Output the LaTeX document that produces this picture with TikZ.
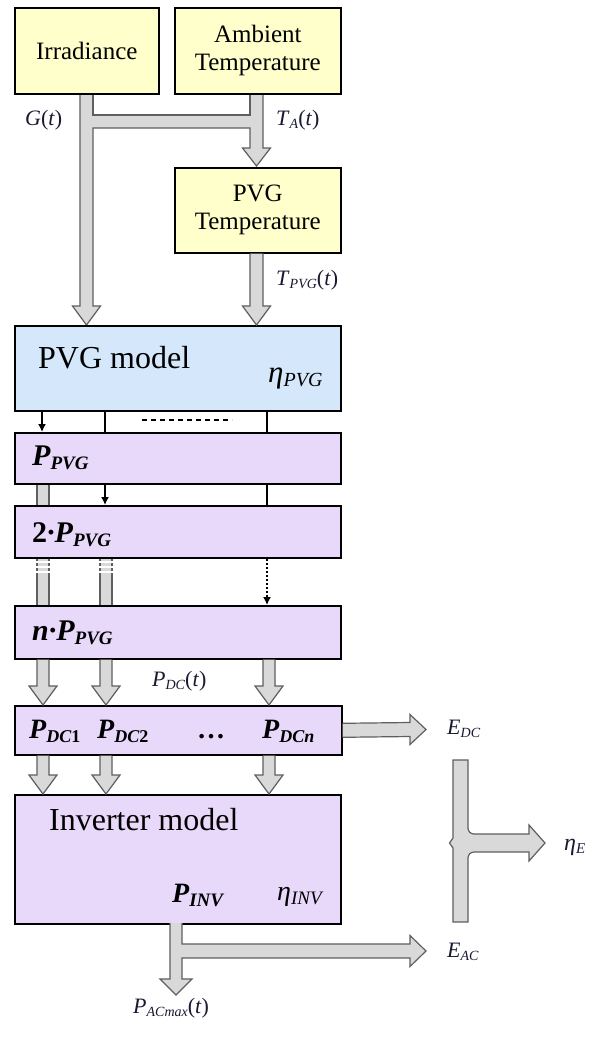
\documentclass[tikz,border=0pt]{standalone}
\usepackage{fontspec}
\setmainfont{Liberation Serif}
\usetikzlibrary{arrows.meta,calc}
\definecolor{yfill}{RGB}{255,255,204}
\definecolor{bfill}{RGB}{213,232,251}
\definecolor{pfill}{RGB}{232,217,250}
\definecolor{agray}{RGB}{217,217,217}
\definecolor{aline}{RGB}{95,95,95}
\definecolor{lbl}{RGB}{25,25,50}
\newcommand{\fs}[1]{\fontsize{#1}{#1}\selectfont}
\newcommand{\sbx}[2]{\raisebox{-0.16em}{\fs{#1}#2}}
% fat down arrow: #1 half shaft, #2 top point, #3 tip point
\newcommand{\fatdown}[3][6]{%
  \filldraw[fatarrow] ($(#2)+(-#1,0)$) -- ($(#3)+(-#1,-19)$) -- ($(#3)+(-14,-19)$) -- (#3)
    -- ($(#3)+(14,-19)$) -- ($(#3)+(#1,-19)$) -- ($(#2)+(#1,0)$);}
\newcommand{\fatright}[2]{%
  \filldraw[fatarrow] ($(#1)+(0,-7)$) -- ($(#2)+(-16,-7)$) -- ($(#2)+(-16,-15)$) -- (#2)
    -- ($(#2)+(-16,15)$) -- ($(#2)+(-16,7)$) -- ($(#1)+(0,7)$);}
\newcommand{\fatshaft}[2]{%
  \fill[agray] ($(#1)+(-6,0)$) rectangle ($(#2)+(6,0)$);
  \draw[aline,line width=1.2pt] ($(#1)+(-6,0)$) -- ($(#2)+(-6,0)$);
  \draw[aline,line width=1.2pt] ($(#1)+(6,0)$) -- ($(#2)+(6,0)$);}
\begin{document}
\begin{tikzpicture}[x=1pt,y=-1pt,
  box/.style={draw=black, line width=1.6pt, inner sep=0pt, anchor=north west},
  ybox/.style={box, fill=yfill, align=center, font=\fontsize{25}{28}\selectfont},
  bbox/.style={box, fill=bfill},
  pbox/.style={box, fill=pfill},
  fatarrow/.style={fill=agray, draw=aline, line width=1.2pt, line join=miter},
  thinarrow/.style={line width=1.5pt, -{Latex[length=8pt,width=8pt]}},
  thinline/.style={line width=1.5pt},
  txt/.style={anchor=base west, inner sep=0pt},
  lab/.style={anchor=base west, inner sep=0pt, text=lbl, font=\fs{22}}]
\useasboundingbox (0,0) rectangle (592,1039);
\clip (0,0) rectangle (592,1039);
\fill[white] (0,0) rectangle (592,1039);

% column coordinates
\coordinate (c1) at (43,0);
\coordinate (c2) at (106,0);
\coordinate (c3) at (269,0);
\coordinate (ct) at (256.5,0);
\coordinate (t1) at (42,0);
\coordinate (t2) at (105,0);
\coordinate (t3) at (267,0);

% ---------- arrows first (boxes drawn over their ends) ----------
% irradiance + branch into ambient arrow
\fill[agray] (80,93) -- (80,306) -- (72.5,306) -- (86.5,325) -- (100.5,306) -- (93,306)
  -- (93,128) -- (250,128) -- (250,148) -- (242.5,148) -- (256.5,166) -- (270.5,148)
  -- (263,148) -- (263,93) -- (250,93) -- (250,115) -- (93,115) -- (93,93) -- cycle;
\draw[aline,line width=1.2pt,line join=miter] (80,93) -- (80,306) -- (72.5,306) -- (86.5,325) -- (100.5,306) -- (93,306)
  -- (93,128) -- (250,128) -- (250,148) -- (242.5,148) -- (256.5,166) -- (270.5,148)
  -- (263,148) -- (263,93);
\draw[aline,line width=1.2pt] (93,93) -- (93,115) -- (250,115) -- (250,93);

% boxes
\node[ybox, minimum width=144pt, minimum height=86pt] (irr) at (14,7) {Irradiance};
\node[ybox, minimum width=166pt, minimum height=86pt] (amb) at (174,7) {Ambient\\Temperature};
\node[ybox, minimum width=166pt, minimum height=85pt] (pvgt) at (174,167) {PVG\\Temperature};
\node[bbox, minimum width=326pt, minimum height=85pt] (pvgm) at (14,325) {};
\node[pbox, minimum width=326pt, minimum height=51pt] (p1) at (14,432) {};
\node[pbox, minimum width=326pt, minimum height=52pt] (p2) at (14,505) {};
\node[pbox, minimum width=326pt, minimum height=53pt] (pn) at (14,605) {};
\node[pbox, minimum width=327pt, minimum height=49pt] (pdc) at (14,705) {};
\node[pbox, minimum width=326pt, minimum height=129pt] (inv) at (14,794) {};

% PVG temperature -> PVG model
\fatdown[6.5]{pvgt.south -| ct}{pvgm.north -| ct}

% PVG model -> P_PVG rows (thin)
\draw[thinarrow] (pvgm.south -| t1) -- (p1.north -| t1);
\draw[thinline] (pvgm.south -| t2) -- (p1.north -| t2);
\draw[thinline] (pvgm.south -| t3) -- (p1.north -| t3);
\coordinate (d1) at (142,420);
\coordinate (d2) at (232,420);
\draw[thinline, dash pattern=on 5pt off 4pt] (d1) -- (d2);

\fatshaft{p1.south -| c1}{p2.north -| c1}
\draw[thinarrow] (p1.south -| t2) -- (p2.north -| t2);
\draw[thinline] (p1.south -| t3) -- (p2.north -| t3);

\fatshaft{p2.south -| c1}{pn.north -| c1}
\fatshaft{p2.south -| c2}{pn.north -| c2}
\foreach \yy in {562,567,572}{
  \draw[white,line width=1.7pt] ($(c1)+(-8,\yy)$) -- ($(c1)+(8,\yy)$);
  \draw[white,line width=1.7pt] ($(c2)+(-8,\yy)$) -- ($(c2)+(8,\yy)$);}
\draw[thinarrow, dash pattern=on 2pt off 2pt] (p2.south -| t3) -- (pn.north -| t3);

% n*P_PVG -> P_DC
\fatdown{pn.south -| c1}{pdc.north -| c1}
\fatdown{pn.south -| c2}{pdc.north -| c2}
\fatdown{pn.south -| c3}{pdc.north -| c3}
% P_DC -> inverter
\fatdown{pdc.south -| c1}{inv.north -| c1}
\fatdown{pdc.south -| c2}{inv.north -| c2}
\fatdown{pdc.south -| c3}{inv.north -| c3}

% P_DC -> E_DC
\coordinate (edctip) at (426,729.5);
\fatright{pdc.east}{edctip}

% inverter output: down to P_ACmax and right to E_AC
\coordinate (invout) at (176,923);
\filldraw[fatarrow] (170,923) -- (170,979) -- (160,979) -- (176,995) -- (192,979) -- (182,979)
  -- (182,958) -- (410,958) -- (410,966.5) -- (426,951) -- (410,935.5) -- (410,944) -- (182,944) -- (182,923);

% merge E_DC / E_AC -> eta_E
\filldraw[fatarrow] (453,760) -- (468,760) -- (468,828) to[out=-90,in=180] (474,834) -- (529,834) -- (529,825)
  -- (545,843) -- (529,861) -- (529,852) -- (474,852) to[out=180,in=90] (468,858) -- (468,922)
  -- (453,922) -- (453,848) -- (449.5,843) -- (453,838) -- cycle;

% ---------- texts ----------
\node[txt, font=\fs{32}] (tpvgm) at (38,368) {PVG model};
\node[txt, font=\fs{31}\itshape] (tetapvg) at (268,382) {η\sbx{20}{PVG}};
\node[txt, font=\fs{30}\bfseries\itshape] (tp1) at (32,465) {P\sbx{19}{PVG}};
\node[txt, font=\fs{30}\bfseries\itshape] (tp2) at (32,542) {{\upshape 2}·P\sbx{19}{PVG}};
\node[txt, font=\fs{30}\bfseries\itshape] (tpn) at (32,640) {n·P\sbx{19}{PVG}};
\node[txt, font=\fs{28}\bfseries\itshape] (tdc1) at (29,738) {P\sbx{18}{DC{\upshape 1}}};
\node[txt, font=\fs{28}\bfseries\itshape] (tdc2) at (97,738) {P\sbx{18}{DC{\upshape 2}}};
\node[txt, font=\fs{28}\bfseries] (tdots) at (197,738) {…};
\node[txt, font=\fs{28}\bfseries\itshape] (tdcn) at (262,738) {P\sbx{18}{DCn}};
\node[txt, font=\fs{32}] (tinv) at (49,830) {Inverter model};
\node[txt, font=\fs{28}\bfseries\itshape] (tpinv) at (172,902) {P\sbx{19}{INV}};
\node[txt, font=\fs{28}\itshape] (tetainv) at (277,900) {η\sbx{19}{INV}};

\node[lab] (lg) at (25,125) {\textit{G}(\textit{t})};
\node[lab] (lta) at (276,125) {\textit{T}\sbx{14}{\textit{A}}(\textit{t})};
\node[lab] (ltpvg) at (276,285) {\textit{T}\sbx{14}{\textit{PVG}}(\textit{t})};
\node[lab] (lpdc) at (152,686) {\textit{P}\sbx{14}{\textit{DC}}(\textit{t})};
\node[lab] (ledc) at (447,734) {\textit{E}\sbx{14}{\textit{DC}}};
\node[lab] (leac) at (447,957) {\textit{E}\sbx{14}{\textit{AC}}};
\node[lab, font=\fs{24}] (letae) at (564,850) {\textit{η}\sbx{15}{\textit{E}}};
\node[lab] (lpac) at (133,1013) {\textit{P}\sbx{14}{\textit{ACmax}}(\textit{t})};
\end{tikzpicture}
\end{document}
